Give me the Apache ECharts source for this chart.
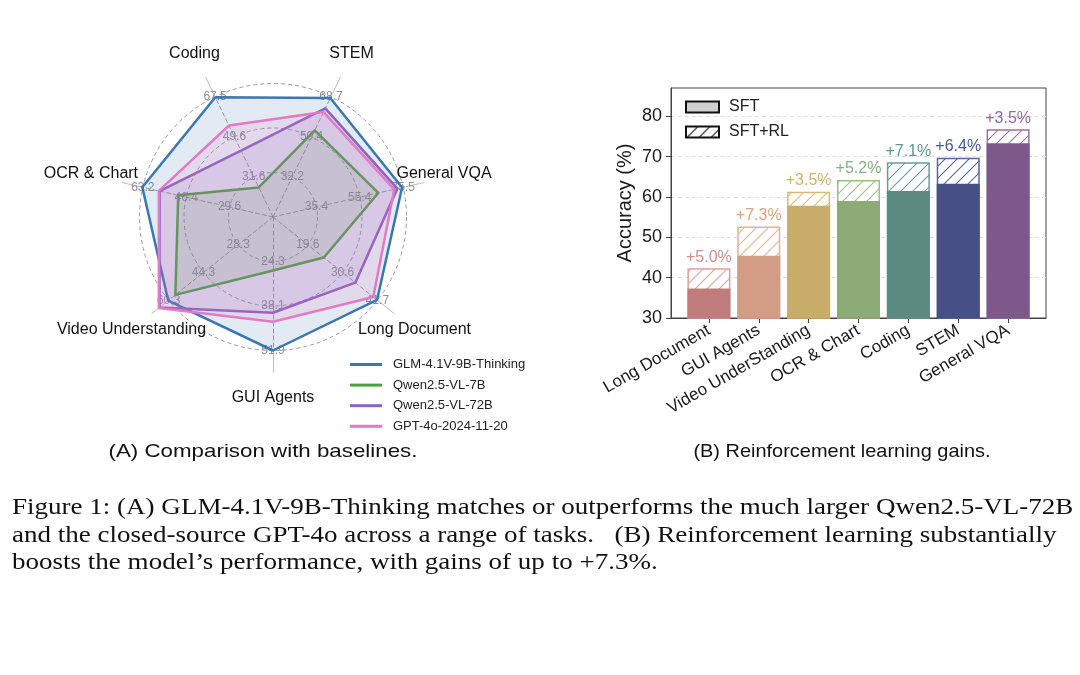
<!DOCTYPE html>
<html><head><meta charset="utf-8">
<script src="https://cdn.jsdelivr.net/npm/echarts@6/dist/echarts.min.js"></script>
<style>html,body{margin:0;padding:0;background:#fff}#c{width:1080px;height:675px}</style>
</head><body><div id="c"></div>
<script>
// ---------- Radar data (A) ----------
const radarAxes = ['Coding', 'OCR & Chart', 'Video Understanding', 'GUI Agents', 'Long Document', 'General VQA', 'STEM'];
const radarMin = [13.65, 12.8, 12.3, 10.5, 8.55, 15.35, 13.95];
const radarMax = [67.5, 63.2, 60.3, 51.9, 41.7, 75.5, 68.7];
const radarTicks = [
  ['31.6', '49.6', '67.5'],
  ['29.6', '46.4', '63.2'],
  ['28.3', '44.3', '60.3'],
  ['24.3', '38.1', '51.9'],
  ['19.6', '30.6', '41.7'],
  ['35.4', '55.4', '75.5'],
  ['32.2', '50.4', '68.7']
];
const models = ['GLM-4.1V-9B-Thinking', 'Qwen2.5-VL-7B', 'Qwen2.5-VL-72B', 'GPT-4o-2024-11-20'];
const glmVals = [67.3, 63.4, 60.5, 51.9, 41.6, 75.0, 68.1];
const qwen7Vals = [26.9, 49.5, 57.2, 27.1, 24.7, 64.0, 53.4];
const qwen72Vals = [43.4, 56.7, 64.5, 40.2, 34.7, 72.8, 63.4];
const gptVals = [54.6, 57.0, 64.8, 43.0, 40.4, 71.4, 61.7];

// ---------- Bar data (B) ----------
const barCats = ['Long Document', 'GUI Agents', 'Video UnderStanding', 'OCR & Chart', 'Coding', 'STEM', 'General VQA'];
const sftVals = [37.3, 45.4, 57.8, 59.0, 61.5, 63.3, 73.3];
const gainVals = [5.0, 7.3, 3.5, 5.2, 7.1, 6.4, 3.5];
const barTickIdx = [0, 1, 2, 3, 4, 5, 6];
const yTicks = [30, 40, 50, 60, 70, 80];

// ---------- Texts ----------
const subA = '(A) Comparison with baselines.';
const subB = '(B) Reinforcement learning gains.';
const captionLines = [
  'Figure 1: (A) GLM-4.1V-9B-Thinking matches or outperforms the much larger Qwen2.5-VL-72B',
  'and the closed-source GPT-4o across a range of tasks.   (B) Reinforcement learning substantially',
  'boosts the model\u2019s performance, with gains of up to +7.3%.'
];

// ---------- Styles ----------
const modelColors = ['#3a77b3', '#4aa03f', '#8c62c0', '#e27bc4'];
const barColors = ['#c07c7c', '#d39c84', '#c8ac69', '#8cab77', '#5a8a80', '#465087', '#7d588a'];
const hatchColors = ['#e0a0a0', '#e8b096', '#d9bb78', '#9cbc88', '#6f9c92', '#5a64a0', '#9a72aa'];
const labelColors = ['#d48c8c', '#dea080', '#d4b26a', '#86b07c', '#5f9688', '#4b569a', '#9466a6'];
// per-axis name nudges (padding) for the radar labels
const namePad = [[0, 0, 0, 0], [0, 0, 0, 18], [0, 0, 0, 0], [0, 0, 0, 0], [0, 0, 0, 0], [0, 40, 0, 0], [0, 0, 0, 0]];

function hatch(color, bg) {
  const s = 12, c = document.createElement('canvas');
  c.width = s; c.height = s;
  const g = c.getContext('2d');
  g.fillStyle = bg; g.fillRect(0, 0, s, s);
  g.strokeStyle = color; g.lineWidth = 1.1;
  g.beginPath();
  g.moveTo(-2, s + 2); g.lineTo(s + 2, -2);
  g.moveTo(-2, 2); g.lineTo(2, -2);
  g.moveTo(s - 2, s + 2); g.lineTo(s + 2, s - 2);
  g.stroke();
  return { image: c, repeat: 'repeat' };
}

const FONT = 'Liberation Sans';
const chart = echarts.init(document.getElementById('c'), null, { renderer: 'canvas' });
const START = 90 + 360 / 7 / 2;
const R = 133.5;
const radarSeriesVals = [glmVals, qwen7Vals, qwen72Vals, gptVals];
const SX = 1.175;

const option = {
  animation: false,
  backgroundColor: '#fff',
  textStyle: { fontFamily: FONT },
  radar: [
    {
      center: [273, 217], radius: 155, startAngle: START, splitNumber: 3, shape: 'circle',
      indicator: radarAxes.map((n, i) => ({ name: '', min: radarMin[i], max: radarMax[i] })),
      axisName: { show: false },
      splitLine: { show: false }, splitArea: { show: false },
      axisLine: { show: true, lineStyle: { color: '#bdbdbd', width: 1, type: [0, R, 160 - R, 400] } },
      axisLabel: { show: false }, axisTick: { show: false }, silent: true
    },
    {
      center: [273, 217], radius: R, startAngle: START, splitNumber: 3, shape: 'circle',
      indicator: radarAxes.map((n, i) => ({
        name: n, min: radarMin[i], max: radarMax[i],
        nameTextStyle: { padding: namePad[i] },
        axisLabel: { formatter: (v, idx) => idx === 0 ? '' : (radarTicks[i][idx - 1] || '') }
      })),
      axisNameGap: 47.5,
      axisName: { color: '#111', fontSize: 16, fontFamily: FONT, align: 'center', verticalAlign: 'middle' },
      splitLine: { show: true, lineStyle: { color: '#9a9a9a', type: [4, 3], width: 1 } },
      splitArea: { show: false },
      axisLine: { show: true, lineStyle: { color: '#9a9a9a', type: [4, 3], width: 1 } },
      axisTick: { show: false },
      axisLabel: { show: true, color: '#8f8f8f', fontSize: 12, fontFamily: FONT, margin: 0, align: 'center', verticalAlign: 'middle' }
    }
  ],
  grid: { left: 671, right: 34, top: 88, bottom: 357, show: true, borderColor: '#444', borderWidth: 1, containLabel: false },
  xAxis: {
    type: 'value', min: -0.76, max: 6.76,
    splitLine: { show: false },
    axisLine: { show: true, onZero: false, lineStyle: { color: '#444' } },
    axisTick: { show: true, customValues: barTickIdx, length: 5, lineStyle: { color: '#444' } },
    axisLabel: { customValues: barTickIdx, formatter: v => barCats[Math.round(v)], rotate: 30, fontSize: 17, color: '#1a1a1a', margin: 11 }
  },
  yAxis: {
    type: 'value', min: 30, max: 87, interval: 10,
    name: 'Accuracy (%)', nameLocation: 'middle', nameGap: 36,
    nameTextStyle: { fontSize: 20, color: '#1a1a1a' },
    axisLine: { show: true, onZero: false, lineStyle: { color: '#444' } },
    axisTick: { show: true, customValues: yTicks, length: 5, lineStyle: { color: '#444' } },
    axisLabel: { customValues: yTicks, fontSize: 18, color: '#1a1a1a', margin: 9 },
    splitLine: { show: true, lineStyle: { color: '#dedede', type: [4, 3] } }
  },
  legend: [
    {
      data: models, orient: 'vertical', left: 345, top: 353, icon: 'rect',
      itemWidth: 32, itemHeight: 3, itemGap: 7.6,
      textStyle: { fontSize: 13, color: '#222', fontFamily: FONT, padding: [0, 0, 0, 6] }
    },
    {
      data: ['SFT', 'SFT+RL'], orient: 'vertical', left: 680, top: 94, icon: 'rect',
      itemWidth: 33, itemHeight: 11, itemGap: 9,
      textStyle: { fontSize: 16, color: '#222', fontFamily: FONT, padding: [0, 0, 0, 5] }
    }
  ],
  graphic: [
    { type: 'text', x: 263, y: 452, scaleX: SX, style: { text: subA, font: '19px "Liberation Sans"', fill: '#111', align: 'center', verticalAlign: 'middle' } },
    { type: 'text', x: 842, y: 452, scaleX: 1.05, style: { text: subB, font: '19px "Liberation Sans"', fill: '#111', align: 'center', verticalAlign: 'middle' } },
    { type: 'text', x: 12, y: 508, scaleX: SX, style: { text: captionLines[0], font: '23px "Liberation Serif"', fill: '#111', verticalAlign: 'middle' } },
    { type: 'text', x: 12, y: 536, scaleX: SX, style: { text: captionLines[1], font: '23px "Liberation Serif"', fill: '#111', verticalAlign: 'middle' } },
    { type: 'text', x: 12, y: 563, scaleX: SX, style: { text: captionLines[2], font: '23px "Liberation Serif"', fill: '#111', verticalAlign: 'middle' } }
  ],
  series: [
    ...models.map((m, k) => ({
      type: 'radar', radarIndex: 1, name: m, symbol: 'none',
      lineStyle: { width: 2.5, color: modelColors[k] },
      itemStyle: { color: modelColors[k] },
      areaStyle: { color: modelColors[k], opacity: 0.15 },
      data: [{ name: m, value: radarSeriesVals[k] }]
    })),
    {
      name: 'SFT+RL', type: 'bar', barWidth: 43, barGap: '-100%',
      itemStyle: { color: hatch('#111', '#fff'), borderColor: '#111', borderWidth: 1 },
      label: { show: true, position: 'top', distance: 3, fontSize: 16, formatter: p => '+' + gainVals[p.dataIndex].toFixed(1) + '%' },
      data: sftVals.map((v, i) => ({
        value: [i, v + gainVals[i]],
        itemStyle: { color: hatch(hatchColors[i], '#fff'), borderColor: hatchColors[i], borderWidth: 1.5 },
        label: { color: labelColors[i] }
      }))
    },
    {
      name: 'SFT', type: 'bar', barWidth: 43, barGap: '-100%',
      itemStyle: { color: '#d0d0d0', borderColor: '#111', borderWidth: 1 },
      data: sftVals.map((v, i) => ({ value: [i, v], itemStyle: { color: barColors[i], borderWidth: 0 } }))
    }
  ]
};
chart.setOption(option);
</script></body></html>
